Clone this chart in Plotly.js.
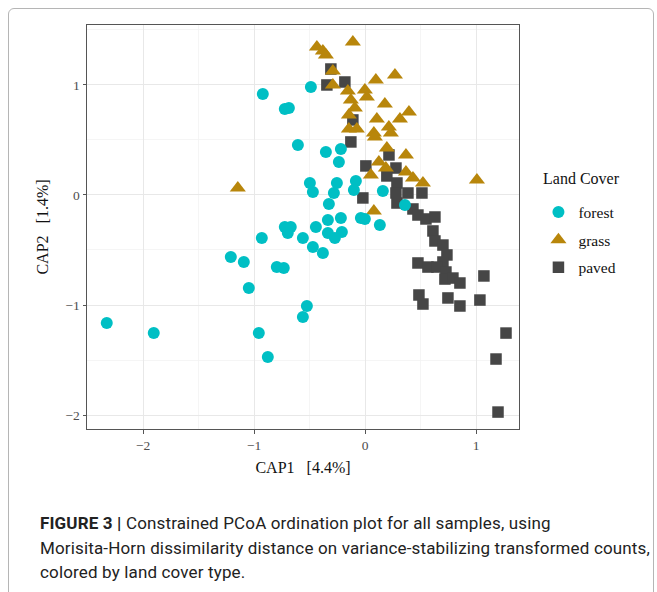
<!DOCTYPE html>
<html>
<head>
<meta charset="utf-8">
<script src="https://cdn.plot.ly/plotly-3.0.1.min.js"></script>
<style>
  html, body { margin: 0; padding: 0; background: #fff; }
  #frame { position: absolute; left: 8px; top: 8px; width: 646px; height: 600px; border: 1px solid #b5b5b5; border-radius: 6px; box-sizing: border-box; }
  #plot { position: absolute; left: 0; top: 0; width: 657px; height: 592px; }
  .cap { position: absolute; left: 40px; white-space: nowrap; font-family: Roboto, "Liberation Sans", Arial, sans-serif; font-size: 17px; letter-spacing: 0.15px; line-height: 20px; color: #222; }
  .cap b { font-weight: bold; }
</style>
</head>
<body>
<div id="frame"></div>
<div id="plot"></div>
<div class="cap" style="top:513px"><b>FIGURE 3 |</b> Constrained PCoA ordination plot for all samples, using</div>
<div class="cap" style="top:538px">Morisita-Horn dissimilarity distance on variance-stabilizing transformed counts,</div>
<div class="cap" style="top:562px">colored by land cover type.</div>
<script>
// Land cover categories
const categories = ["forest", "grass", "paved"];

// forest samples (CAP1, CAP2)
const forestX = [-2.327,-1.904,-0.922,-0.724,-0.687,-0.606,-0.489,-0.354,-0.219,-0.237,-0.498,-0.471,-0.255,-0.282,-0.084,-0.102,0.159,-0.327,0.358,-0.336,-0.219,-0.039,-0.003,0.132,-0.444,-0.724,-0.670,-0.697,-0.561,-0.210,-0.336,-0.273,-0.471,-0.381,-0.931,-1.210,-1.093,-0.796,-0.733,-1.048,-0.525,-0.561,-0.958,-0.877];
const forestY = [-1.164,-1.255,0.918,0.782,0.791,0.455,0.982,0.391,0.418,0.300,0.109,0.027,0.109,0.018,0.127,0.045,0.036,-0.082,-0.091,-0.227,-0.209,-0.209,-0.218,-0.273,-0.291,-0.291,-0.291,-0.345,-0.391,-0.336,-0.345,-0.391,-0.473,-0.527,-0.391,-0.564,-0.609,-0.655,-0.664,-0.845,-1.009,-1.109,-1.255,-1.473];

// grass samples
const grassX = [-1.147,-0.435,-0.381,-0.354,-0.111,-0.291,-0.291,-0.156,-0.003,0.096,0.268,-0.129,0.015,-0.093,0.177,0.394,-0.147,0.105,0.313,0.213,-0.147,-0.075,0.078,0.231,0.087,0.195,0.367,0.123,0.186,0.051,0.367,0.430,0.520,1.006,0.078];
const grassY = [0.064,1.345,1.309,1.273,1.391,1.127,1.000,0.945,0.955,1.045,1.091,0.864,0.891,0.791,0.827,0.755,0.727,0.691,0.691,0.618,0.600,0.600,0.564,0.564,0.527,0.427,0.364,0.300,0.245,0.182,0.209,0.155,0.109,0.136,-0.145];

// paved samples
const pavedX = [-0.309,-0.345,-0.183,-0.111,-0.129,0.006,0.214,0.277,0.195,0.286,-0.021,0.277,0.286,0.385,0.511,0.430,0.475,0.547,0.628,0.610,0.628,0.700,0.736,0.700,0.475,0.565,0.646,0.727,0.718,0.790,0.853,1.069,0.484,0.520,0.745,0.853,1.033,1.268,1.178,1.196];
const pavedY = [1.145,1.000,1.027,0.682,0.482,0.264,0.364,0.245,0.173,0.109,-0.027,0.018,-0.073,0.018,0.018,-0.127,-0.182,-0.218,-0.200,-0.327,-0.418,-0.455,-0.545,-0.609,-0.618,-0.655,-0.655,-0.700,-0.764,-0.755,-0.800,-0.736,-0.909,-0.991,-0.936,-1.009,-0.955,-1.255,-1.491,-1.973];

// axis ticks
const xTicks = [-2, -1, 0, 1];
const yTicks = [-2, -1, 0, 1];

const serif = '"Liberation Serif", "Times New Roman", serif';

const traces = [
  { x: pavedX, y: pavedY, name: categories[2], legendrank: 3, legendgroup: 'p', type: 'scatter', mode: 'markers',
    marker: { symbol: 'square', size: 11.5, color: '#464646' } },
  { x: grassX, y: grassY, name: categories[1], legendrank: 2, legendgroup: 'g', type: 'scatter', mode: 'markers',
    marker: { symbol: 'triangle-up', size: 14, color: '#B8860B' } },
  { x: forestX, y: forestY, name: categories[0], legendrank: 1, legendgroup: 'f', type: 'scatter', mode: 'markers',
    marker: { symbol: 'circle', size: 12, color: '#00BFC4' } }
];

const axisCommon = {
  showline: true, mirror: true, linecolor: '#555', linewidth: 1,
  ticks: 'outside', ticklen: 3.5, tickcolor: '#555', tickwidth: 1,
  gridcolor: '#e8e8e8', gridwidth: 1, zeroline: false,
  tickfont: { family: serif, size: 13.5, color: '#4d4d4d' }
};

const layout = {
  width: 657, height: 592,
  margin: { l: 87, r: 138, t: 25, b: 163 },
  paper_bgcolor: 'rgba(0,0,0,0)', plot_bgcolor: '#fff',
  showlegend: true,
  xaxis: Object.assign({}, axisCommon, {
    range: [-2.505, 1.385], tickvals: xTicks, minor: { showgrid: true, dtick: 0.5, gridcolor: '#f3f3f3', gridwidth: 0.8 },
    title: { text: 'CAP1\u00a0\u00a0\u00a0[4.4%]', font: { family: serif, size: 16, color: '#111' }, standoff: 10 }
  }),
  yaxis: Object.assign({}, axisCommon, {
    range: [-2.127, 1.545], tickvals: yTicks, minor: { showgrid: true, dtick: 0.5, gridcolor: '#f3f3f3', gridwidth: 0.8 },
    title: { text: 'CAP2\u00a0\u00a0\u00a0[1.4%]', font: { family: serif, size: 16, color: '#111' }, standoff: 12 }
  }),
  legend: {
    x: 1.045, xanchor: 'left', y: 0.578, yanchor: 'top',
    font: { family: serif, size: 15.5, color: '#111' },
    itemwidth: 30, tracegroupgap: 4.5, bgcolor: 'rgba(0,0,0,0)'
  },
  annotations: [{
    text: 'Land Cover', xref: 'paper', yref: 'paper', x: 1.05, xanchor: 'left',
    y: 0.593, yanchor: 'bottom', showarrow: false,
    font: { family: serif, size: 16, color: '#111' }
  }]
};

Plotly.newPlot('plot', traces, layout, { displayModeBar: false, staticPlot: true });
</script>
</body>
</html>
